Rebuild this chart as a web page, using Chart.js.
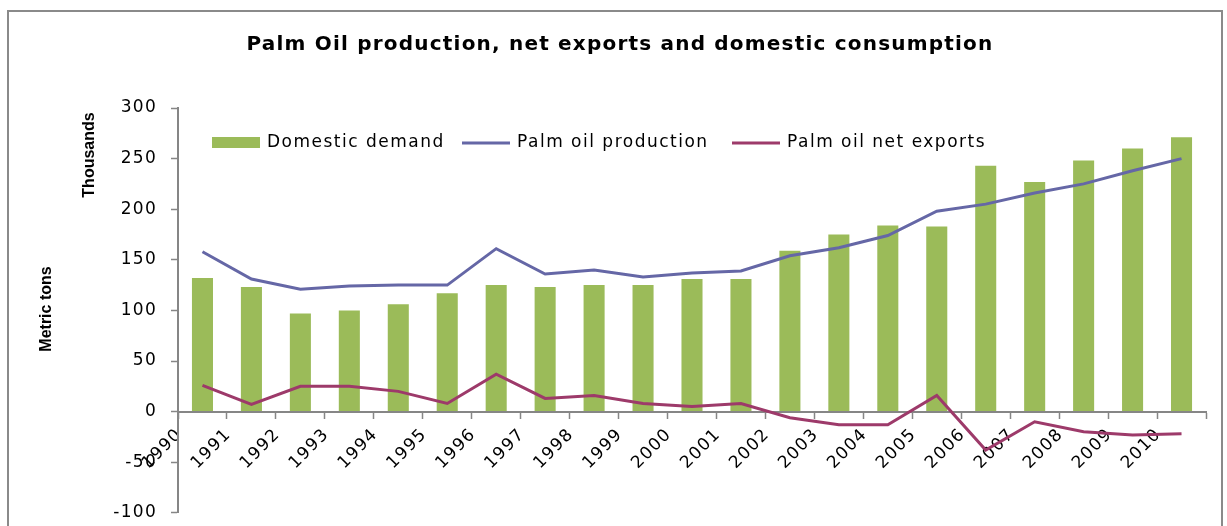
<!DOCTYPE html>
<html>
<head>
<meta charset="utf-8">
<script src="https://cdn.jsdelivr.net/npm/chart.js@4"></script>
<style>
  html, body { margin: 0; padding: 0; background: #fff; overflow: hidden; }
  /* canvas runs a little below the window: the layout keeps a fixed gap under the plot */
  #wrap { width: 1227px; height: 537px; position: relative; }
</style>
</head>
<body>
<div id="wrap"><canvas id="palmChart"></canvas></div>
<script>
// -----------------------------
// DATA (thousand metric tons)
// -----------------------------
const years = ['1990', '1991', '1992', '1993', '1994', '1995', '1996', '1997', '1998', '1999', '2000',
               '2001', '2002', '2003', '2004', '2005', '2006', '2007', '2008', '2009', '2010'];

const domesticDemand = [132, 123, 97, 100, 106, 117, 125, 123, 125, 125, 131,
                        131, 159, 175, 184, 183, 243, 227, 248, 260, 271];

const palmProduction = [158, 131, 121, 124, 125, 125, 161, 136, 140, 133, 137,
                        139, 154, 162, 174, 198, 205, 216, 225, 238, 250];

const netExports = [26, 7, 25, 25, 20, 8, 37, 13, 16, 8, 5,
                    8, -6, -13, -13, 16, -38, -10, -20, -23, -22];

const yTicks = [-100, -50, 0, 50, 100, 150, 200, 250, 300];

const chartTitle = 'Palm Oil production, net exports and domestic consumption';

const GREEN = '#9BBB59';
const BLUE = '#6567A6';
const PLUM = '#9D3A6A';
const AXIS = '#868686';

// -----------------------------
// FRAME, TITLES, LEGEND
// -----------------------------
const decorations = {
    id: 'decorations',
    beforeDraw(chart) {
        const ctx = chart.ctx;
        ctx.save();
        ctx.fillStyle = '#fff';
        ctx.fillRect(0, 0, chart.width, chart.height);
        ctx.strokeStyle = '#8a8a8a';
        ctx.lineWidth = 2;
        ctx.beginPath();
        ctx.moveTo(8, chart.height + 2);
        ctx.lineTo(8, 11);
        ctx.lineTo(1222, 11);
        ctx.lineTo(1222, chart.height + 2);
        ctx.stroke();
        ctx.restore();
        // the original text is set quite loose
        ctx.letterSpacing = '1.3px';
    },
    afterDraw(chart) {
        const ctx = chart.ctx;
        ctx.save();

        // main title
        ctx.fillStyle = '#000';
        ctx.letterSpacing = '1.2px';
        ctx.font = 'bold 20px "DejaVu Sans", sans-serif';
        ctx.textAlign = 'center';
        ctx.textBaseline = 'middle';
        ctx.fillText(chartTitle, 620, 45);

        // axis titles
        ctx.letterSpacing = '0px';
        ctx.font = 'bold 16px "Liberation Sans", Arial, sans-serif';
        [['Thousands', 90, 155], ['Metric tons', 47, 309]].forEach(([txt, x, y]) => {
            ctx.save();
            ctx.translate(x, y);
            ctx.rotate(-Math.PI / 2);
            ctx.fillText(txt, 0, 0);
            ctx.restore();
        });

        // legend
        const slots = [212, 462, 732];
        const ly = 143;
        ctx.font = '17px "DejaVu Sans", sans-serif';
        ctx.textAlign = 'left';
        ctx.letterSpacing = '1.5px';
        chart.data.datasets.forEach((ds, i) => {
            const x = slots[i];
            if (ds.type === 'bar') {
                ctx.fillStyle = ds.backgroundColor;
                ctx.fillRect(x, ly - 6, 48, 11);
            } else {
                ctx.strokeStyle = ds.borderColor;
                ctx.lineWidth = 3;
                ctx.beginPath();
                ctx.moveTo(x, ly);
                ctx.lineTo(x + 48, ly);
                ctx.stroke();
            }
            ctx.fillStyle = '#000';
            ctx.fillText(ds.label, x + 55, ly);
        });
        ctx.restore();
    }
};

// -----------------------------
// CHART
// -----------------------------
new Chart(document.getElementById('palmChart'), {
    data: {
        labels: years,
        datasets: [
            {
                type: 'bar',
                label: 'Domestic demand',
                data: domesticDemand,
                backgroundColor: GREEN,
                categoryPercentage: 1,
                barPercentage: 0.43,
                order: 3
            },
            {
                type: 'line',
                label: 'Palm oil production',
                data: palmProduction,
                borderColor: BLUE,
                borderWidth: 3,
                pointRadius: 0,
                tension: 0,
                order: 2
            },
            {
                type: 'line',
                label: 'Palm oil net exports',
                data: netExports,
                borderColor: PLUM,
                borderWidth: 3,
                pointRadius: 0,
                tension: 0,
                order: 1
            }
        ]
    },
    options: {
        responsive: true,
        maintainAspectRatio: false,
        animation: false,
        layout: {
            padding: { left: 0, right: 21, top: 108, bottom: 0 }
        },
        plugins: {
            legend: { display: false },
            tooltip: { enabled: false },
            title: { display: false }
        },
        scales: {
            x: {
                type: 'category',
                position: { y: 0 },
                offset: true,
                border: { display: true, color: AXIS, width: 2 },
                grid: {
                    display: true,
                    offset: true,
                    drawOnChartArea: false,
                    drawTicks: true,
                    tickLength: 6,
                    tickColor: AXIS,
                    tickWidth: 1.5
                },
                ticks: {
                    autoSkip: false,
                    minRotation: 45,
                    maxRotation: 45,
                    labelOffset: -23,
                    padding: 7,
                    color: '#000',
                    font: { family: '"DejaVu Sans", sans-serif', size: 17 }
                }
            },
            y: {
                min: -100,
                max: 300,
                afterFit(scale) { scale.width = 178; },
                afterBuildTicks(scale) {
                    scale.ticks = yTicks.map(v => ({ value: v }));
                },
                border: { display: true, color: AXIS, width: 2 },
                grid: {
                    display: true,
                    drawOnChartArea: false,
                    drawTicks: true,
                    tickLength: 7,
                    tickColor: AXIS,
                    tickWidth: 1.5
                },
                ticks: {
                    padding: 14,
                    color: '#000',
                    font: { family: '"DejaVu Sans", sans-serif', size: 17 }
                }
            }
        }
    },
    plugins: [decorations]
});
</script>
</body>
</html>
